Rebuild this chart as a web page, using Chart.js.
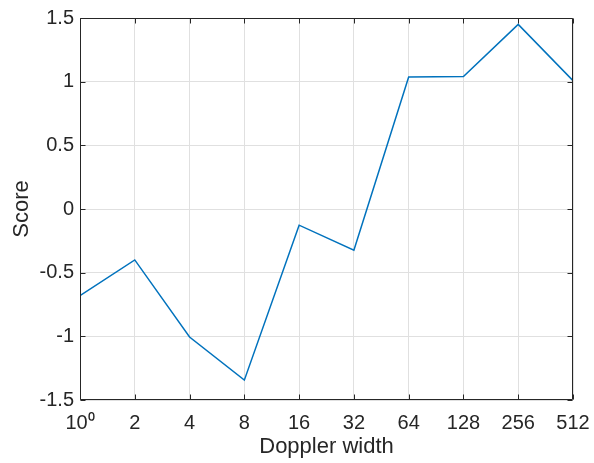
<!DOCTYPE html>
<html>
<head>
<meta charset="utf-8">
<script src="https://cdn.jsdelivr.net/npm/chart.js@4/dist/chart.umd.min.js"></script>
<style>
  html, body { margin: 0; padding: 0; background: #ffffff; }
  #wrap { width: 594px; height: 463px; }
</style>
</head>
<body>
<div id="wrap"><canvas id="c" width="594" height="463"></canvas></div>
<script>
// Doppler widths (powers of two) and the score measured at each
const dopplerWidths = [1, 2, 4, 8, 16, 32, 64, 128, 256, 512];
const widthTickLabels = ['10\u2070', '2', '4', '8', '16', '32', '64', '128', '256', '512'];
const scores = [-0.68, -0.40, -1.005, -1.344, -0.127, -0.323, 1.036, 1.041, 1.45, 1.008];
const scoreTicks = [-1.5, -1, -0.5, 0, 0.5, 1, 1.5];
const scoreTickLabels = ['-1.5', '-1', '-0.5', '0', '0.5', '1', '1.5'];

const INK = '#262626';
const FONT = '"Liberation Sans", Arial, Helvetica, sans-serif';

// Axes box with inward tick marks on all four sides
const boxTicks = {
  id: 'boxTicks',
  afterDraw(chart) {
    const { ctx, chartArea: a, scales: { x, y } } = chart;
    const L = Math.round(a.left) + 0.5, R = Math.round(a.right) - 0.5;
    const T = Math.round(a.top) + 0.5, B = Math.round(a.bottom) - 0.5;
    const len = 5;
    ctx.save();
    ctx.strokeStyle = INK;
    ctx.lineWidth = 1;
    ctx.beginPath();
    ctx.rect(L, T, R - L, B - T);
    x.ticks.forEach(t => {
      const px = Math.round(x.getPixelForValue(t.value)) + 0.5;
      ctx.moveTo(px, B); ctx.lineTo(px, B - len);
      ctx.moveTo(px, T); ctx.lineTo(px, T + len);
    });
    y.ticks.forEach(t => {
      const py = Math.round(y.getPixelForValue(t.value)) + 0.5;
      ctx.moveTo(L, py); ctx.lineTo(L + len, py);
      ctx.moveTo(R, py); ctx.lineTo(R - len, py);
    });
    ctx.stroke();
    ctx.restore();
  }
};

new Chart(document.getElementById('c'), {
  type: 'line',
  data: {
    datasets: [{
      data: dopplerWidths.map((w, i) => ({ x: w, y: scores[i] })),
      borderColor: '#0072BD',
      borderWidth: 1.5,
      pointRadius: 0,
      tension: 0,
      fill: false
    }]
  },
  options: {
    responsive: false,
    animation: false,
    devicePixelRatio: 1,
    layout: { padding: { left: 0, top: 16, right: 21, bottom: 0 } },
    plugins: { legend: { display: false }, tooltip: { enabled: false } },
    scales: {
      x: {
        type: 'logarithmic',
        min: 1,
        max: 512,
        afterBuildTicks(scale) {
          scale.ticks = dopplerWidths.map(v => ({ value: v }));
        },
        afterFit(scale) {
          scale.height = 63;
          scale.paddingLeft = 0;
          scale.paddingRight = 0;
        },
        grid: { color: '#e0e0e0', lineWidth: 1, drawTicks: false },
        border: { display: false },
        ticks: {
          autoSkip: false,
          maxRotation: 0,
          padding: 11,
          color: INK,
          font: { family: FONT, size: 20 },
          callback(value) {
            const i = dopplerWidths.indexOf(value);
            return i >= 0 ? widthTickLabels[i] : '';
          }
        },
        title: {
          display: true,
          text: 'Doppler width',
          color: INK,
          font: { family: FONT, size: 22 },
          padding: { top: 0, bottom: 3 }
        }
      },
      y: {
        type: 'linear',
        min: -1.5,
        max: 1.5,
        afterBuildTicks(scale) {
          scale.ticks = scoreTicks.map(v => ({ value: v }));
        },
        afterFit(scale) { scale.width = 80; },
        grid: { color: '#e0e0e0', lineWidth: 1, drawTicks: false },
        border: { display: false },
        ticks: {
          padding: 6,
          color: INK,
          font: { family: FONT, size: 20 },
          callback(value) {
            const i = scoreTicks.indexOf(value);
            return i >= 0 ? scoreTickLabels[i] : '';
          }
        },
        title: {
          display: true,
          text: 'Score',
          color: INK,
          font: { family: FONT, size: 22 },
          padding: { top: 9, bottom: 0 }
        }
      }
    }
  },
  plugins: [boxTicks]
});
</script>
</body>
</html>
